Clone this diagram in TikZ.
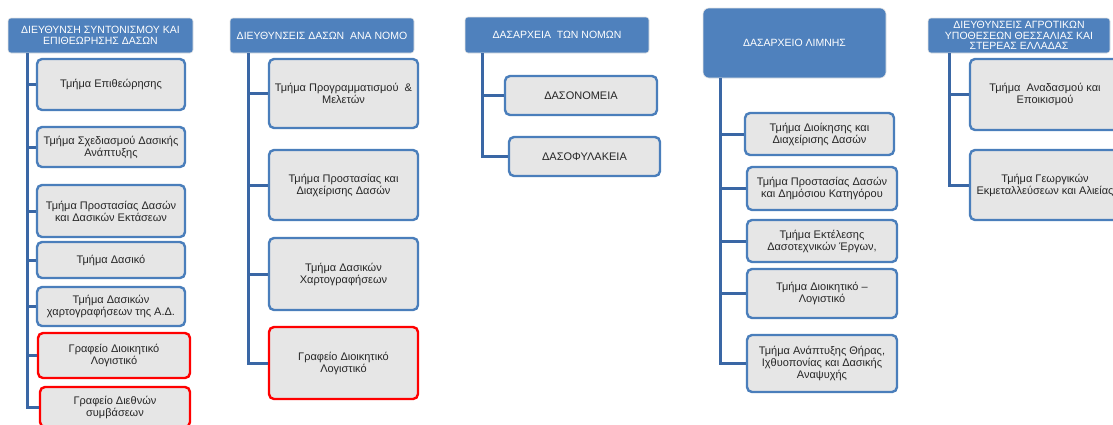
\documentclass[tikz,border=0pt]{standalone}
\usepackage{fontspec}
\setmainfont{Liberation Sans}
\usepackage{tikz}
\usetikzlibrary{calc}
\definecolor{hdrblue}{HTML}{4F81BD}
\definecolor{edgeblue}{HTML}{4A7EBB}
\definecolor{linkblue}{HTML}{3A67A5}
\definecolor{boxgray}{HTML}{E6E6E6}

\begin{document}
\begin{tikzpicture}[x=1pt,y=-1pt,
  head/.style={rectangle,rounded corners=3pt,fill=hdrblue,draw=gray!20,line width=0.6pt,
    text=white,align=center,font=\fontsize{10.5}{10.5}\selectfont,inner sep=0pt},
  unit/.style={rectangle,rounded corners=5pt,fill=boxgray,draw=edgeblue,line width=2.4pt,
    text=black!85,align=center,font=\fontsize{11}{12}\selectfont,inner sep=0pt},
  office/.style={unit,draw=red},
  conn/.style={draw=linkblue,line width=3pt}]
\useasboundingbox (0,0) rectangle (1113,424);
\clip (0,0) rectangle (1113,424);

% column 1
\node (h1) at (100.5,35.5) [head,minimum width=185,minimum height=35] {ΔΙΕΥΘΥΝΣΗ ΣΥΝΤΟΝΙΣΜΟΥ ΚΑΙ\\ΕΠΙΘΕΩΡΗΣΗΣ ΔΑΣΩΝ};
\node (b11) at (111,84.5) [unit,minimum width=148,minimum height=51] {Τμήμα Επιθεώρησης};
\node (b12) at (111,147) [unit,minimum width=148,minimum height=40] {Τμήμα Σχεδιασμού Δασικής\\Ανάπτυξης};
\node (b13) at (111,211) [unit,minimum width=148,minimum height=52] {Τμήμα Προστασίας Δασών\\και Δασικών Εκτάσεων};
\node (b14) at (111,260) [unit,minimum width=148,minimum height=36] {Τμήμα Δασικό};
\node (b15) at (111,306.5) [unit,minimum width=148,minimum height=39] {Τμήμα Δασικών\\χαρτογραφήσεων της Α.Δ.};
\node (b16) at (114,355.5) [office,minimum width=152,minimum height=45] {Γραφείο Διοικητικό\\Λογιστικό};
\node (b17) at (115,407) [office,minimum width=150,minimum height=40] {Γραφείο Διεθνών\\συμβάσεων};
\coordinate (s1) at (27,53);
\draw[conn] (s1) |- (b11.west) (s1) |- (b12.west) (s1) |- (b13.west) (s1) |- (b14.west)
  (s1) |- (b15.west) (s1) |- (b16.west) (s1) |- (b17.west);

% column 2
\node (h2) at (322,35.5) [head,minimum width=184,minimum height=35] {ΔΙΕΥΘΥΝΣΕΙΣ ΔΑΣΩΝ \ ΑΝΑ ΝΟΜΟ};
\node (b21) at (343.5,93.5) [unit,minimum width=149,minimum height=69] {Τμήμα Προγραμματισμού \ \&\\Μελετών};
\node (b22) at (343.5,185) [unit,minimum width=149,minimum height=70] {Τμήμα Προστασίας και\\Διαχείρισης Δασών};
\node (b23) at (343.5,274) [unit,minimum width=149,minimum height=72] {Τμήμα Δασικών\\Χαρτογραφήσεων};
\node (b24) at (343.5,363) [office,minimum width=149,minimum height=72] {Γραφείο Διοικητικό\\Λογιστικό};
\coordinate (s2) at (248,53);
\draw[conn] (s2) |- (b21.west) (s2) |- (b22.west) (s2) |- (b23.west) (s2) |- (b24.west);

% column 3
\node (h3) at (557,35) [head,minimum width=184,minimum height=36] {ΔΑΣΑΡΧΕΙΑ \ ΤΩΝ ΝΟΜΩΝ};
\node (b31) at (581,95.5) [unit,minimum width=152,minimum height=39] {ΔΑΣΟΝΟΜΕΙΑ};
\node (b32) at (584.5,156.5) [unit,minimum width=151,minimum height=39] {ΔΑΣΟΦΥΛΑΚΕΙΑ};
\coordinate (s3) at (482,53);
\draw[conn] (s3) |- (b31.west) (s3) |- (b32.west);

% column 4
\node (h4) at (794.5,43) [head,rounded corners=6pt,minimum width=183,minimum height=70] {ΔΑΣΑΡΧΕΙΟ ΛΙΜΝΗΣ};
\node (b41) at (819.5,134) [unit,minimum width=149,minimum height=42] {Τμήμα Διοίκησης και\\Διαχείρισης Δασών};
\node (b42) at (822,188.5) [unit,minimum width=150,minimum height=43] {Τμήμα Προστασίας Δασών\\και Δημόσιου Κατηγόρου};
\node (b43) at (822,241) [unit,minimum width=150,minimum height=42] {Τμήμα Εκτέλεσης\\Δασοτεχνικών Έργων,};
\node (b44) at (822,293.5) [unit,minimum width=150,minimum height=49] {Τμήμα Διοικητικό –\\Λογιστικό};
\node (b45) at (822,363.5) [unit,minimum width=150,minimum height=57] {Τμήμα Ανάπτυξης Θήρας,\\Ιχθυοπονίας και Δασικής\\Αναψυχής};
\coordinate (s4) at (720,78);
\draw[conn] (s4) |- (b41.west) (s4) |- (b42.west) (s4) |- (b43.west) (s4) |- (b44.west)
  (s4) |- (b45.west);

% column 5
\node (h5) at (1019,35.5) [head,minimum width=182,minimum height=35] {ΔΙΕΥΘΥΝΣΕΙΣ ΑΓΡΟΤΙΚΩΝ\\ΥΠΟΘΕΣΕΩΝ ΘΕΣΣΑΛΙΑΣ ΚΑΙ\\ΣΤΕΡΕΑΣ ΕΛΛΑΔΑΣ};
\node (b51) at (1045,94.5) [unit,minimum width=150,minimum height=71] {Τμήμα \ Αναδασμού και\\Εποικισμού};
\node (b52) at (1045,185) [unit,minimum width=150,minimum height=70] {Τμήμα Γεωργικών\\Εκμεταλλεύσεων και Αλιείας};
\coordinate (s5) at (949,53);
\draw[conn] (s5) |- (b51.west) (s5) |- (b52.west);
\end{tikzpicture}
\end{document}
